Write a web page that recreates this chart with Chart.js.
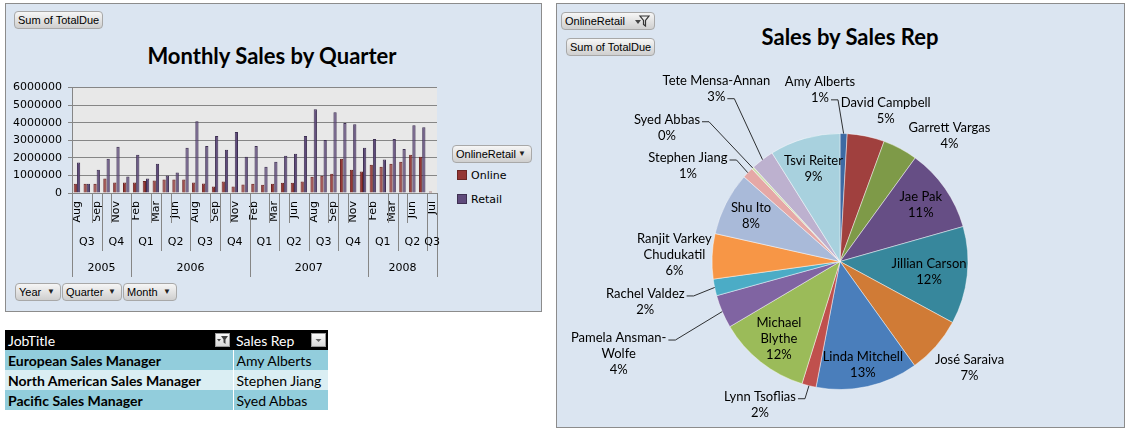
<!DOCTYPE html>
<html>
<head>
<meta charset="utf-8">
<script src="https://cdn.jsdelivr.net/npm/chart.js@4.4.1/dist/chart.umd.min.js"></script>
<style>
  body { margin: 0; background: #fff; width: 1129px; height: 435px; overflow: hidden; position: relative; }
  .panel { position: absolute; background: #dbe5f1; border: 1px solid #8c8c8c; box-sizing: border-box; }
  .btn { position: absolute; height: 18px; box-sizing: border-box; border: 1px solid #a8a8a8; border-radius: 4px;
         background: linear-gradient(#f6f6f6, #cfcfcf); font: 11px "Liberation Sans", sans-serif; line-height: 16px;
         padding-left: 3px; color: #000; white-space: nowrap; }
  .btn .arr { position: absolute; right: 5px; top: 0; font-size: 8px; color: #222; }
  .title { position: absolute; font: bold 22px Lato, sans-serif; color: #000; text-align: center; }
  .leg { position: absolute; font: 11px "DejaVu Sans", sans-serif; color: #000; }
  .leg span { display: inline-block; width: 8px; height: 8px; margin-right: 4px; vertical-align: -1px; }
  canvas { position: absolute; }
  table { position: absolute; left: 5px; top: 330px; border-collapse: collapse; font: 14px Lato, sans-serif; }
  td { height: 20px; padding: 0 0 0 3px; box-sizing: border-box; position: relative; }
  .ico { position: absolute; top: 3px; width: 15px; height: 14px; background: linear-gradient(#fafafa, #d8d8d8); border: 1px solid #999; box-sizing: border-box; }
</style>
</head>
<body>

<div class="panel" style="left:5px;top:3px;width:537px;height:309px;"></div>
<div class="panel" style="left:556px;top:3px;width:569px;height:425px;"></div>

<div class="btn" style="left:14px;top:11px;width:89px;">Sum of TotalDue</div>
<div class="title" style="left:72px;top:42px;width:400px;">Monthly Sales by Quarter</div>
<div class="btn" style="left:452px;top:145px;width:80px;">OnlineRetail<span class="arr">&#9660;</span></div>
<div id="legend"></div>
<div class="btn" style="left:15px;top:283px;width:46px;">Year<span class="arr">&#9660;</span></div>
<div class="btn" style="left:62px;top:283px;width:60px;">Quarter<span class="arr">&#9660;</span></div>
<div class="btn" style="left:123px;top:283px;width:54px;">Month<span class="arr">&#9660;</span></div>

<div class="btn" style="left:561px;top:12px;width:94px;">OnlineRetail
  <svg style="position:absolute;right:4px;top:2px" width="16" height="12" viewBox="0 0 16 12">
    <path d="M1 5 L4 9 L7 5 Z" fill="#444"/><path d="M6 1 H15 L11.5 5.5 V11 L9.5 9.5 V5.5 Z" fill="none" stroke="#333" stroke-width="1.2"/>
  </svg></div>
<div class="btn" style="left:566px;top:38px;width:89px;">Sum of TotalDue</div>
<div class="title" style="left:700px;top:23px;width:300px;">Sales by Sales Rep</div>

<canvas id="barChart" style="left:0px;top:75px;" width="460" height="215"></canvas>
<canvas id="pieChart" style="left:556px;top:60px;" width="568" height="364"></canvas>

<table id="jobTable"></table>

<script>
// bar chart data: months Jul 2005 .. Jul 2008
const months = ["Jul","Aug","Sep","Oct","Nov","Dec","Jan","Feb","Mar","Apr","May","Jun",
  "Jul","Aug","Sep","Oct","Nov","Dec","Jan","Feb","Mar","Apr","May","Jun",
  "Jul","Aug","Sep","Oct","Nov","Dec","Jan","Feb","Mar","Apr","May","Jun","Jul"];
// month labels as Excel shows them (every other slot)
const monthTicks = ["Aug","","Sep","","Nov","","Feb","","Mar","","Jun","",
  "Aug","","Sep","","Nov","","Feb","","Mar","","Jun","",
  "Aug","","Sep","","Nov","","Feb","","Mar","","Jun","","Jul"];
const quarterLabels = ["Q3","Q4","Q1","Q2","Q3","Q4","Q1","Q2","Q3","Q4","Q1","Q2","Q3"];
const quarterMonths = [3,3,3,3,3,3,3,3,3,3,3,3,1];
const years = ["2005","2006","2007","2008"];
const yearMonths = [6,12,12,7];
const onlineSales = [530000,530000,530000,830000,600000,600000,600000,680000,710000,770000,770000,770000,
  600000,540000,375000,660000,375000,490000,530000,470000,530000,580000,580000,660000,
  920000,980000,1100000,1950000,1330000,1220000,1610000,1500000,1670000,1780000,2180000,2060000,90000];
const retailSales = [1730000,530000,1330000,1950000,2630000,940000,2180000,830000,1670000,1000000,1160000,2570000,
  4090000,2680000,3250000,2460000,3470000,2060000,2680000,1500000,1780000,2120000,2230000,3250000,
  4770000,3020000,4600000,3980000,3920000,2570000,3080000,1900000,3080000,2510000,3860000,3750000,0];
const yTicks = [0,1000000,2000000,3000000,4000000,5000000,6000000];
const seriesNames = ["Online","Retail"];
const seriesColors = ["#943634","#5f4a7b"];
const seriesBorders = ["#6b2624","#3e3052"];

// pie chart data (share of TotalDue, percent)
const salesReps = ["Amy Alberts","David Campbell","Garrett Vargas","Jae Pak","Jillian Carson","José Saraiva",
  "Linda Mitchell","Lynn Tsoflias","Michael Blythe","Pamela Ansman-Wolfe","Rachel Valdez",
  "Ranjit Varkey Chudukatil","Shu Ito","Stephen Jiang","Syed Abbas","Tete Mensa-Annan","Tsvi Reiter"];
const repSales = [0.9,4.7,4.4,10.6,12.3,7.2,12.9,1.8,11.7,4.2,2.1,5.7,8.0,1.4,0.3,2.9,8.9];
const repColors = ["#3d6aa3","#a0403e","#7e9a48","#664e85","#37879c","#d07b36",
  "#4a7ebb","#c0504d","#9bbb59","#8064a2","#4bacc6","#f79646","#a9bad9","#e5a8a6","#cfdfb0","#bdb1cf","#a8d1de"];

// table data
const jobTitles = ["European Sales Manager","North American Sales Manager","Pacific Sales Manager"];
const jobReps = ["Amy Alberts","Stephen Jiang","Syed Abbas"];

// label placement for the pie (layout only)
const labelPlace = [
  {dx:-0.156, dy:-1.341}, {dx:0.357, dy:-1.176}, {dx:0.855, dy:-0.984}, {inside:true, k:0.77},
  {inside:true, k:0.70}, {dx:1.012, dy:0.832}, {inside:true, k:0.83}, {dx:-0.625, dy:1.119},
  {inside:true, k:0.77, w:60}, {dx:-1.729, dy:0.723, w:100}, {dx:-1.521, dy:0.316},
  {dx:-1.294, dy:-0.051, w:90}, {inside:true, k:0.78}, {dx:-1.188, dy:-0.746},
  {dx:-1.352, dy:-1.045}, {dx:-0.966, dy:-1.35}, {inside:true, k:0.75}
];

// legend
document.getElementById("legend").innerHTML = seriesNames.map((n, i) =>
  `<div class="leg" style="left:457px;top:${169 + i * 24}px;"><span style="background:${seriesColors[i]};border:1px solid ${seriesBorders[i]}"></span>${n}</div>`).join("");

// table
let rows = `<tr style="background:#000;color:#fff"><td style="width:228px">JobTitle<div class="ico" style="right:3px">
  <svg width="13" height="12" viewBox="0 0 13 12" style="position:absolute;left:0;top:0"><path d="M1 5 L3 7.5 L5 5Z" fill="#444"/><path d="M5 2 H12 L9.5 5.5 V10 L7.5 8.5 V5.5Z" fill="#444"/></svg></div></td>
  <td style="width:95px">Sales Rep<div class="ico" style="right:2px"><svg width="13" height="12" viewBox="0 0 13 12" style="position:absolute;left:0;top:0"><path d="M3.5 5 L9.5 5 L6.5 8Z" fill="#666"/></svg></div></td></tr>`;
for (let i = 0; i < jobTitles.length; i++) {
  const bg = i % 2 == 0 ? "#92cddc" : "#daeef3";
  rows += `<tr style="background:${bg}"><td style="font-weight:bold;border-right:1px solid #fff">${jobTitles[i]}</td><td>${jobReps[i]}</td></tr>`;
}
document.getElementById("jobTable").innerHTML = rows;

// plot background + multi-level category axis
const axisGroups = {
  id: "axisGroups",
  beforeDraw(chart) {
    const { ctx, chartArea } = chart;
    ctx.save();
    ctx.fillStyle = "#e8e8e8";
    ctx.fillRect(chartArea.left, chartArea.top, chartArea.right - chartArea.left, chartArea.bottom - chartArea.top);
    ctx.restore();
  },
  afterDraw(chart) {
    const { ctx, chartArea } = chart;
    const x = chart.scales.x;
    const edge = b => x.getPixelForValue(b - 0.5);
    const y0 = chartArea.bottom;
    const qB = new Set([0]);
    const yB = new Set([0]);
    let c = 0;
    for (const n of quarterMonths) { c += n; qB.add(c); }
    c = 0;
    for (const n of yearMonths) { c += n; yB.add(c); }
    ctx.save();
    ctx.strokeStyle = "#868686";
    ctx.lineWidth = 1;
    for (let b = 0; b <= months.length; b++) {
      let depth = 0;
      if (yB.has(b)) depth = 84;
      else if (qB.has(b)) depth = 58;
      else if (b % 2 == 0) depth = 30;
      if (!depth) continue;
      const px = Math.round(edge(b)) + 0.5;
      ctx.beginPath();
      ctx.moveTo(px, y0);
      ctx.lineTo(px, y0 + depth);
      ctx.stroke();
    }
    ctx.fillStyle = "#000";
    ctx.font = "11px 'DejaVu Sans'";
    ctx.textAlign = "center";
    ctx.textBaseline = "middle";
    c = 0;
    quarterLabels.forEach((q, i) => {
      ctx.fillText(q, (edge(c) + edge(c + quarterMonths[i])) / 2, y0 + 49);
      c += quarterMonths[i];
    });
    c = 0;
    years.forEach((yr, i) => {
      ctx.fillText(yr, (edge(c) + edge(c + yearMonths[i])) / 2, y0 + 75);
      c += yearMonths[i];
    });
    ctx.restore();
  }
};

new Chart(document.getElementById("barChart"), {
  type: "bar",
  data: {
    labels: months,
    datasets: seriesNames.map((n, i) => ({
      label: n,
      data: i == 0 ? onlineSales : retailSales,
      backgroundColor: seriesColors[i],
      borderColor: seriesBorders[i],
      borderWidth: 1,
      categoryPercentage: 0.66,
      barPercentage: 1.0,
    })),
  },
  options: {
    responsive: false,
    animation: false,
    events: [],
    layout: { padding: { left: 0, right: 23, top: 11, bottom: 0 } },
    plugins: { legend: { display: false }, tooltip: { enabled: false } },
    scales: {
      x: {
        grid: { display: false, drawTicks: false },
        border: { color: "#868686" },
        ticks: {
          autoSkip: false, minRotation: 90, maxRotation: 90, padding: 8, color: "#000",
          font: { family: "DejaVu Sans", size: 11 },
          callback: (v, i) => monthTicks[i],
        },
        afterFit: s => { s.height = 97; },
      },
      y: {
        min: 0,
        max: 6000000,
        afterBuildTicks: s => { s.ticks = yTicks.map(v => ({ value: v })); },
        grid: { color: "#868686", tickLength: 4 },
        border: { color: "#868686" },
        ticks: { padding: 6, color: "#000", font: { family: "DejaVu Sans", size: 11 }, callback: v => String(v) },
        afterFit: s => { s.width = 72; },
      },
    },
  },
  plugins: [axisGroups],
});

function wrapText(ctx, text, maxW) {
  const parts = text.match(/[^\s-]+-?\s*/g);
  const lines = [];
  let cur = "";
  for (const p of parts) {
    const test = cur + p;
    if (cur && ctx.measureText(test.trim()).width > maxW) {
      lines.push(cur.trim());
      cur = p;
    } else {
      cur = test;
    }
  }
  if (cur) lines.push(cur.trim());
  return lines;
}

// pie data labels with leader lines
const pieLabels = {
  id: "pieLabels",
  afterDatasetsDraw(chart) {
    const ctx = chart.ctx;
    const meta = chart.getDatasetMeta(0);
    const total = repSales.reduce((a, b) => a + b, 0);
    const lh = 16;
    ctx.save();
    ctx.font = "13px Lato";
    ctx.fillStyle = "#000";
    ctx.strokeStyle = "#000";
    ctx.lineWidth = 0.8;
    ctx.textAlign = "center";
    ctx.textBaseline = "middle";
    meta.data.forEach((arc, i) => {
      const p = arc.getProps(["x", "y", "startAngle", "endAngle", "outerRadius"], true);
      const mid = (p.startAngle + p.endAngle) / 2;
      const place = labelPlace[i];
      const lines = wrapText(ctx, salesReps[i], place.w || 130);
      lines.push(Math.round(repSales[i] / total * 100) + "%");
      let cx, cy;
      if (place.inside) {
        cx = p.x + Math.cos(mid) * p.outerRadius * place.k;
        cy = p.y + Math.sin(mid) * p.outerRadius * place.k;
      } else {
        cx = p.x + place.dx * p.outerRadius;
        cy = p.y + place.dy * p.outerRadius;
      }
      const top = cy - (lines.length - 1) * lh / 2;
      lines.forEach((t, k) => ctx.fillText(t, cx, top + k * lh));
      if (place.inside) return;
      const ax = p.x + Math.cos(mid) * p.outerRadius;
      const ay = p.y + Math.sin(mid) * p.outerRadius;
      const widths = lines.map(t => ctx.measureText(t).width);
      const boxW = Math.max(...widths);
      const boxL = cx - boxW / 2, boxR = cx + boxW / 2;
      const boxT = top - lh / 2, boxB = top + (lines.length - 1) * lh + lh / 2;
      const ddx = Math.max(boxL - ax, 0, ax - boxR);
      const ddy = Math.max(boxT - ay, 0, ay - boxB);
      if (Math.hypot(ddx, ddy) < 10) return;
      const dir = ax > cx ? 1 : -1;
      let sx, sy;
      if (ax >= boxL && ax <= boxR) {
        const k = ay > cy ? lines.length - 1 : 0;
        sx = cx + dir * (widths[k] / 2 + 2);
        sy = top + k * lh + 2;
      } else {
        const k = widths.indexOf(boxW);
        sx = cx + dir * (boxW / 2 + 2);
        sy = top + k * lh + 2;
      }
      ctx.beginPath();
      ctx.moveTo(sx, sy);
      ctx.lineTo(sx + dir * 7, sy);
      ctx.lineTo(ax, ay);
      ctx.stroke();
    });
    ctx.restore();
  }
};

new Chart(document.getElementById("pieChart"), {
  type: "pie",
  data: {
    labels: salesReps,
    datasets: [{
      data: repSales,
      backgroundColor: repColors,
      borderColor: "rgba(255,255,255,0.45)",
      borderWidth: 1,
    }],
  },
  options: {
    responsive: false,
    animation: false,
    events: [],
    radius: 128,
    layout: { padding: { top: 39, bottom: 0 } },
    plugins: { legend: { display: false }, tooltip: { enabled: false } },
  },
  plugins: [pieLabels],
});
</script>
</body>
</html>
